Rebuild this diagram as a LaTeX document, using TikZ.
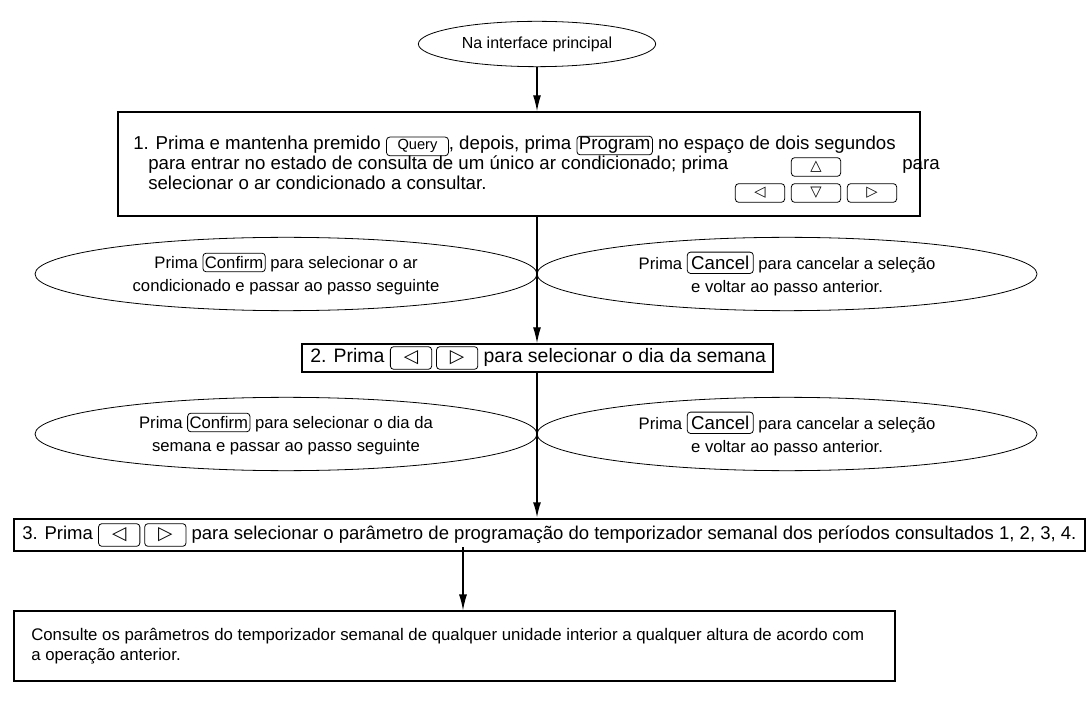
\documentclass[tikz,border=0pt]{standalone}
\usepackage{fontspec}
\setmainfont{Liberation Sans}
\newfontfamily\symfont{DejaVu Sans}
\usetikzlibrary{arrows.meta, positioning, shapes.geometric}

\tikzset{
  stepbox/.style={draw, rectangle, line width=1.1pt, inner sep=0pt},
  oval/.style={draw, ellipse, line width=0.6pt, inner sep=0pt},
  ovaltxt/.style={align=center, inner sep=0pt, font=\fontsize{12.5}{17.5}\selectfont},
  txt/.style={inner sep=0pt, anchor=west, align=left, font=\fontsize{14}{15}\selectfont},
  keycap/.style={draw, rectangle, rounded corners=2.5pt, line width=0.6pt,
    inner xsep=1.5pt, inner ysep=0pt, minimum height=14pt, minimum width=0pt},
  flow/.style={-{Latex[length=12pt, width=6pt]}, line width=0.9pt},
}
\newcommand{\keycap}[2][]{\tikz[baseline=(kc.base)]\node[keycap, #1] (kc) {#2};}
\newcommand{\keyleft}{\keycap[minimum width=31pt, minimum height=17pt]{\symfont\fontsize{14}{14}\selectfont ◁}}
\newcommand{\keyright}{\keycap[minimum width=31pt, minimum height=17pt]{\symfont\fontsize{14}{14}\selectfont ▷}}
\newcommand{\keycancel}{\keycap[font=\fontsize{14}{14}\selectfont, inner xsep=3pt, minimum height=16pt]{Cancel}}

\begin{document}
\begin{tikzpicture}[x=0.75pt, y=-0.75pt, font=\fontsize{12}{15}\selectfont]
  \useasboundingbox (0,0) rectangle (1087,712);

  % Start
  \node[oval, minimum width=178pt, minimum height=34pt] (start) at (537,44) {Na interface principal};

  % Step 1
  \node[stepbox, minimum width=601.5pt, minimum height=78pt] (step1) at (519,164) {};
  \node[txt, anchor=base west] (s1a) at (133,150)
    {1. Prima e mantenha premido \keycap[minimum width=46.5pt, font=\fontsize{11}{11}\selectfont]{Query}, depois, prima \keycap{Program} no espaço de dois segundos};
  \node[txt, anchor=base west] (s1b) at (148,170)
    {para entrar no estado de consulta de um único ar condicionado; prima};
  \node[txt, anchor=base west] (s1c) at (148,190)
    {selecionar o ar condicionado a consultar.};
  \node[txt, anchor=base west] (s1d) at (902,170) {para};
  \node[keycap, minimum width=37pt] (kup) at (816,167) {\symfont\fontsize{11}{11}\selectfont △};
  \node[keycap, minimum width=37pt] (kleft) at (760,193) {\symfont\fontsize{11}{11}\selectfont ◁};
  \node[keycap, minimum width=37pt] (kdown) at (816,193) {\symfont\fontsize{11}{11}\selectfont ▽};
  \node[keycap, minimum width=37pt] (kright) at (872,193) {\symfont\fontsize{11}{11}\selectfont ▷};

  % Choices after step 1
  \node[oval, minimum width=376.5pt, minimum height=55pt] (okA) at (286,274) {};
  \node[ovaltxt] (okAtxt) at (okA)
    {Prima \keycap{Confirm} para selecionar o ar\\condicionado e passar ao passo seguinte};
  \node[oval, minimum width=375pt, minimum height=55pt] (noA) at (787,274) {};
  \node[ovaltxt] (noAtxt) at (noA)
    {Prima \keycancel\ para cancelar a seleção\\e voltar ao passo anterior.};

  % Step 2
  \node[stepbox, minimum width=353pt, minimum height=21pt] (step2) at (537.5,358) {};
  \node[txt, font=\fontsize{14.6}{15}\selectfont] (s2) at (310,358)
    {2. Prima \keyleft\hspace{3pt}\keyright\ para selecionar o dia da semana};

  % Choices after step 2
  \node[oval, minimum width=376.5pt, minimum height=55pt] (okB) at (286,434) {};
  \node[ovaltxt] (okBtxt) at (okB)
    {Prima \keycap{Confirm} para selecionar o dia da\\semana e passar ao passo seguinte};
  \node[oval, minimum width=375pt, minimum height=55pt] (noB) at (787,434) {};
  \node[ovaltxt] (noBtxt) at (noB)
    {Prima \keycancel\ para cancelar a seleção\\e voltar ao passo anterior.};

  % Step 3
  \node[stepbox, minimum width=803pt, minimum height=24pt] (step3) at (549.5,535) {};
  \node[txt, font=\fontsize{13.9}{15}\selectfont] (s3) at (22,535)
    {3. Prima \keyleft\hspace{3pt}\keyright\ para selecionar o parâmetro de programação do temporizador semanal dos períodos consultados 1, 2, 3, 4.};

  % Result
  \node[stepbox, line width=0.8pt, minimum width=660.75pt, minimum height=52.5pt] (step4) at (454.5,646) {};
  \node[txt, font=\fontsize{12.6}{15}\selectfont] (s4) at (31,646)
    {Consulte os parâmetros do temporizador semanal de qualquer unidade interior a qualquer altura de acordo com\\a operação anterior.};

  % Connectors
  \coordinate (a4) at (463,547);
  \draw[flow] (start.south) -- (start.south |- step1.north);
  \draw[flow] (start.south |- step1.south) -- (start.south |- step2.north);
  \draw[flow, line width=1.6pt] (start.south |- step2.south) -- (start.south |- step3.north);
  \draw[flow] (a4) -- (a4 |- step4.north);
\end{tikzpicture}
\end{document}
